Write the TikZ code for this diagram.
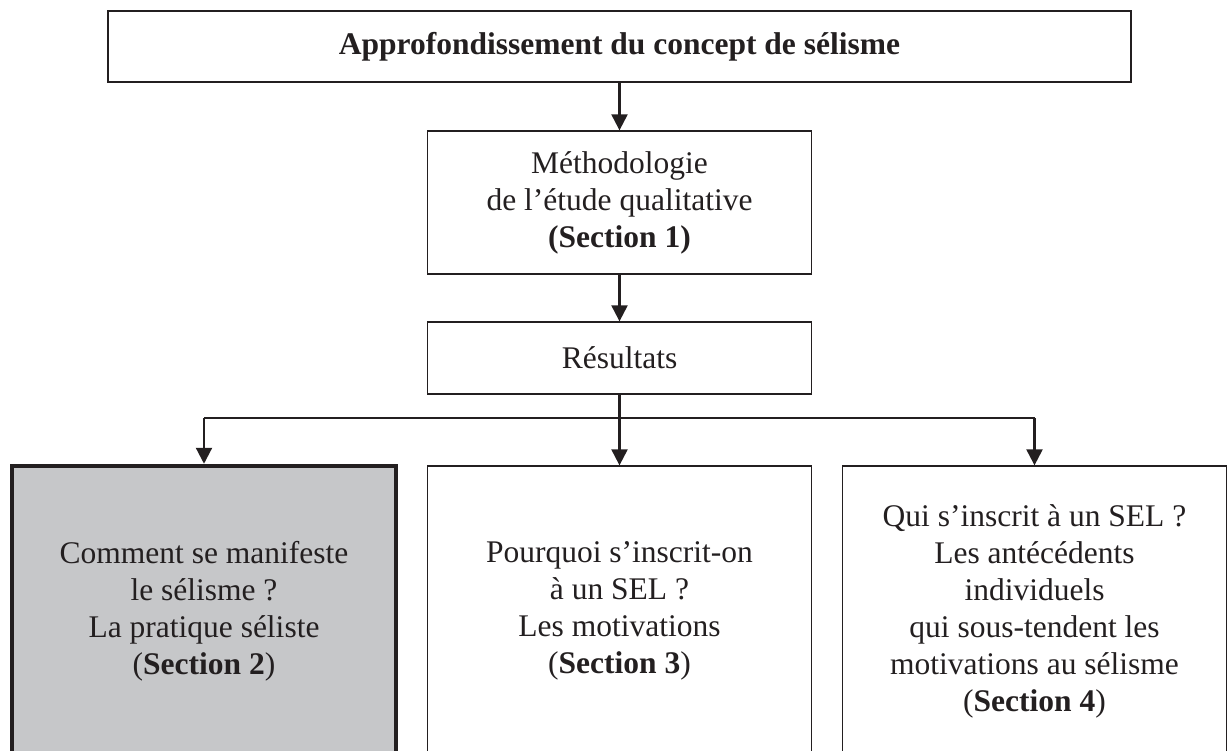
\documentclass[tikz,border=0pt]{standalone}
\usepackage{fontspec}
\setmainfont{Liberation Serif}
\usetikzlibrary{positioning,arrows.meta}
\definecolor{ink}{RGB}{35,31,32}
\definecolor{boxgray}{RGB}{198,199,201}
\tikzset{
->,
>={Triangle[width=16pt,length=16pt]},
x=1pt, y=1pt,
node distance=100pt,
block/.style={draw=ink, text=ink, line width=1.3pt, align=center, inner sep=0pt,
  minimum width=384pt, font=\fontsize{31.5}{37}\selectfont},
}

\begin{document}
\begin{tikzpicture}
    [line width=2.2pt, draw=ink]
    \useasboundingbox (0,0) rectangle (1228,-751);
    \node[block,minimum width=1023pt,minimum height=71pt] (T) at (619.5,-46.5) {\textbf{Approfondissement du concept de sélisme}};

    %middle column
    \node[block,minimum height=143pt,below of=T,node distance=156pt] (M) {Méthodologie\\de l’étude qualitative\\\textbf{(Section 1)}};
    \node[block,minimum height=72pt,below of=M,node distance=155.5pt] (R) {Résultats};
    \coordinate[below of=R,node distance=60pt] (split);

    %sections
    \node[block,minimum height=290pt,below of=R,node distance=253pt] (S3) {Pourquoi s’inscrit-on\\à un SEL ?\\Les motivations\\(\textbf{Section 3})};
    \node[block,minimum height=290pt,fill=boxgray,line width=4.5pt,left of=S3,node distance=415.5pt] (S2) {Comment se manifeste\\le sélisme ?\\La pratique séliste\\(\textbf{Section 2})};
    \node[block,minimum height=290pt,right of=S3,node distance=415pt] (S4) {Qui s’inscrit à un SEL ?\\Les antécédents\\individuels\\qui sous-tendent les\\motivations au sélisme\\(\textbf{Section 4})};

    \coordinate (splitL) at (S2 |- split);
    \coordinate (splitR) at (S4 |- split);

    \draw (T) to (M);
    \draw (M) to (R);
    \draw[-] (R) to (split);
    \draw[-,line width=1.4pt] (splitL) to (splitR);
    \draw (splitL) to (S2);
    \draw (split) to (S3);
    \draw (splitR) to (S4);
\end{tikzpicture}
\end{document}
